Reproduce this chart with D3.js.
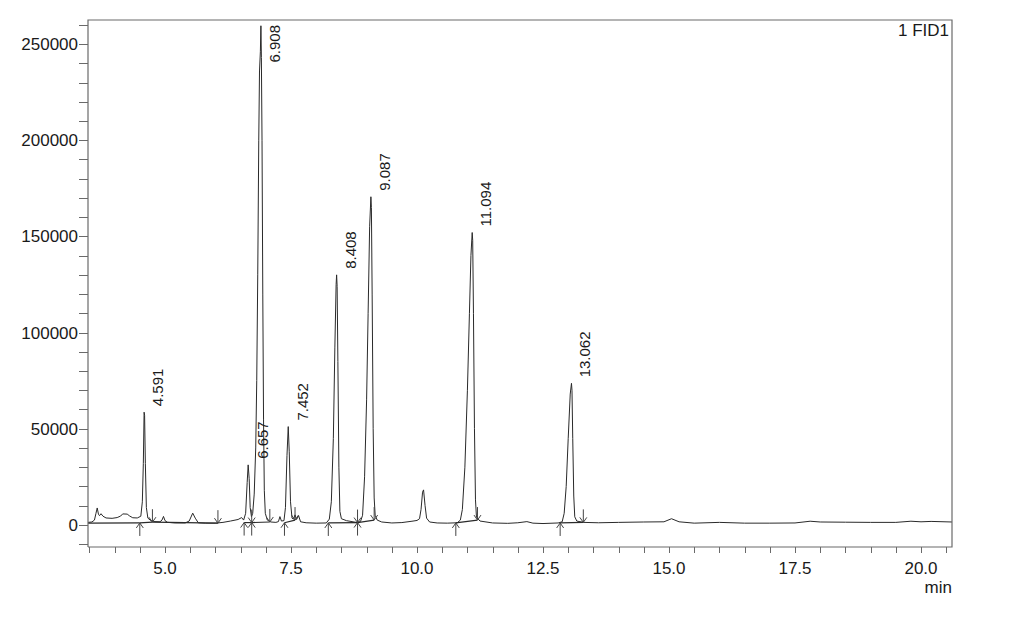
<!DOCTYPE html>
<html lang="en">
<head>
<meta charset="utf-8">
<title>FID1 chromatogram</title>
<style>
  body { margin: 0; background: #fff; }
  svg { display: block; font-family: "Liberation Sans", Arial, sans-serif; }
  .frame { fill: none; stroke: #6a6a6a; stroke-width: 1.2; }
  .tick { stroke: #6a6a6a; stroke-width: 1; }
  .tick-label { fill: #1a1a1a; font-size: 17px; }
  .trace { fill: none; stroke: #2a2a2a; stroke-width: 1; stroke-linejoin: round; }
  .baseline { fill: none; stroke: #2a2a2a; stroke-width: 1.2; }
  .marker { fill: none; stroke: #444; stroke-width: 1; }
  .peak-label { fill: #1a1a1a; font-size: 15px; }
</style>
</head>
<body>
<div id="wrapper"></div>
<script src="https://cdn.jsdelivr.net/npm/d3@7"></script>
<script>
// detector signal: [time (min), counts]
const trace = [
  [3.472, 1300], [3.55, 1500], [3.60, 2500], [3.63, 6000], [3.655, 8800], [3.68, 5500],
  [3.70, 4800], [3.73, 5800], [3.77, 4500], [3.83, 3600], [3.95, 3400], [4.05, 3800],
  [4.12, 4600], [4.16, 5700], [4.25, 5600], [4.30, 4600], [4.36, 3700], [4.45, 3600],
  [4.52, 4500], [4.55, 12000], [4.57, 32000], [4.585, 58600], [4.595, 57000], [4.61, 32000],
  [4.63, 9000], [4.66, 3500], [4.72, 2200], [4.80, 1700], [4.90, 1600], [4.94, 2500],
  [4.97, 4400], [5.00, 2200], [5.05, 1300], [5.20, 1000], [5.40, 1000], [5.48, 2000],
  [5.55, 6100], [5.60, 3500], [5.66, 1100], [5.80, 900], [6.00, 900], [6.15, 1300],
  [6.30, 2000], [6.45, 2800], [6.52, 3800], [6.56, 2500], [6.60, 6000], [6.63, 22000],
  [6.65, 31200], [6.67, 24000], [6.69, 9000], [6.715, 4300], [6.74, 6000], [6.77, 16000],
  [6.80, 40000], [6.82, 75000], [6.84, 130000], [6.86, 200000], [6.875, 236000],
  [6.892, 246000], [6.903, 259500], [6.912, 243000], [6.925, 200000], [6.94, 120000],
  [6.955, 55000], [6.97, 18000], [6.99, 6000], [7.03, 2500], [7.10, 1500], [7.20, 1300],
  [7.25, 1700], [7.28, 4300], [7.31, 2000], [7.36, 2200], [7.39, 9000], [7.42, 36000],
  [7.445, 51100], [7.465, 38000], [7.49, 12000], [7.52, 3500], [7.55, 3000], [7.58, 5200],
  [7.61, 2800], [7.65, 4800], [7.69, 1600], [7.80, 1100], [8.00, 900], [8.20, 1000],
  [8.26, 3000], [8.30, 12000], [8.34, 45000], [8.37, 92000], [8.395, 125000], [8.405, 130000],
  [8.415, 124000], [8.43, 85000], [8.45, 30000], [8.47, 7000], [8.50, 3200], [8.60, 2200],
  [8.75, 1500], [8.82, 1200], [8.88, 1800], [8.92, 5000], [8.96, 25000], [9.00, 65000],
  [9.03, 110000], [9.06, 155000], [9.085, 170600], [9.095, 165000], [9.11, 120000],
  [9.13, 50000], [9.15, 14000], [9.17, 5000], [9.21, 2500], [9.30, 1500], [9.50, 1000],
  [9.70, 1200], [9.90, 1900], [10.00, 2300], [10.05, 3200], [10.08, 8000], [10.11, 17000],
  [10.13, 18200], [10.16, 10000], [10.19, 3500], [10.25, 1500], [10.40, 1000], [10.60, 900],
  [10.80, 1100], [10.86, 2500], [10.90, 8000], [10.95, 30000], [11.00, 70000], [11.04, 110000],
  [11.07, 140000], [11.095, 152000], [11.105, 148000], [11.12, 110000], [11.14, 50000],
  [11.16, 13000], [11.18, 4000], [11.25, 2000], [11.50, 1000], [11.80, 800], [12.00, 1100],
  [12.18, 1700], [12.30, 900], [12.50, 700], [12.80, 1000], [12.88, 1600], [12.92, 6000],
  [12.96, 20000], [13.00, 45000], [13.04, 68000], [13.065, 73600], [13.075, 70000],
  [13.09, 45000], [13.11, 15000], [13.13, 4200], [13.17, 2000], [13.30, 1300], [13.60, 1100],
  [14.00, 1300], [14.50, 1500], [14.90, 1600], [15.05, 3200], [15.20, 1600], [15.50, 900],
  [16.00, 1300], [16.50, 900], [17.00, 900], [17.50, 1000], [17.80, 1900], [18.00, 1500],
  [18.50, 1400], [19.00, 1300], [19.50, 1300], [19.80, 1900], [20.00, 1600], [20.20, 1800],
  [20.615, 1500]
]

// labelled peaks
const peakTimes = [4.591, 6.657, 6.908, 7.452, 8.408, 9.087, 11.094, 13.062]
const peakLabels = ["4.591", "6.657", "6.908", "7.452", "8.408", "9.087", "11.094", "13.062"]
const peakApex = [58600, 31200, 259500, 51100, 130000, 170600, 152000, 73600]

// integration marks: peak start (up arrow) and peak end (down arrow)
const startMarks = [[4.50, 1000], [6.57, 1200], [6.72, 1200], [7.37, 1100], [8.24, 1000], [8.82, 1200], [10.77, 1000], [12.84, 1000]]
const endMarks = [[4.75, 1400], [6.05, 900], [6.72, 1200], [7.08, 1500], [7.58, 2500], [8.82, 1200], [9.15, 2500], [11.20, 2500], [13.30, 1300]]

// integration baseline segments [t1, v1, t2, v2]
const baseSegments = [
  [3.472, 900, 4.50, 1000], [4.50, 1000, 4.75, 1400], [4.75, 1400, 6.05, 900],
  [6.57, 1200, 6.72, 1200], [6.72, 1200, 7.08, 1500], [7.37, 1100, 7.58, 2500],
  [8.24, 1000, 8.82, 1200], [8.82, 1200, 9.15, 2500], [10.77, 1000, 11.20, 2500],
  [12.84, 1000, 13.30, 1300]
]

const yMajorTicks = [0, 50000, 100000, 150000, 200000, 250000]
const xMajorTicks = [5.0, 7.5, 10.0, 12.5, 15.0, 17.5, 20.0]
const signalName = "1 FID1"
const timeUnit = "min"

function drawChart() {
  const width = 1020
  const height = 621
  const plot = { left: 88, right: 952, top: 20, bottom: 547 }

  const x = d3.scaleLinear().domain([3.472, 20.615]).range([plot.left, plot.right])
  const y = d3.scaleLinear().domain([-11500, 262500]).range([plot.bottom, plot.top])

  const svg = d3.select("#wrapper").append("svg")
    .attr("width", width)
    .attr("height", height)

  // y axis: minor every 10000, labels every 50000
  const yMinor = d3.range(-10000, 260001, 10000)
  svg.append("g").selectAll("line")
    .data(yMinor)
    .join("line")
    .attr("class", "tick")
    .attr("x1", plot.left - 9)
    .attr("x2", plot.left)
    .attr("y1", d => Math.round(y(d)) + 0.5)
    .attr("y2", d => Math.round(y(d)) + 0.5)

  svg.append("g").selectAll("text")
    .data(yMajorTicks)
    .join("text")
    .attr("class", "tick-label")
    .attr("x", plot.left - 10)
    .attr("y", d => y(d))
    .attr("dy", "0.36em")
    .attr("text-anchor", "end")
    .text(d => d)

  // x axis: minor every 0.5 min
  const xMinor = d3.range(3.5, 20.51, 0.5)
  svg.append("g").selectAll("line")
    .data(xMinor)
    .join("line")
    .attr("class", "tick")
    .attr("x1", d => Math.round(x(d)) + 0.5)
    .attr("x2", d => Math.round(x(d)) + 0.5)
    .attr("y1", plot.bottom)
    .attr("y2", plot.bottom + 6)

  svg.append("g").selectAll("text")
    .data(xMajorTicks)
    .join("text")
    .attr("class", "tick-label")
    .attr("x", d => x(d))
    .attr("y", plot.bottom + 27)
    .attr("text-anchor", "middle")
    .text(d => d.toFixed(1))

  svg.append("text")
    .attr("class", "tick-label")
    .attr("x", plot.right)
    .attr("y", plot.bottom + 46)
    .attr("text-anchor", "end")
    .text(timeUnit)

  // trace, clipped to the frame
  svg.append("clipPath").attr("id", "plot-clip")
    .append("rect")
    .attr("x", plot.left)
    .attr("y", plot.top)
    .attr("width", plot.right - plot.left)
    .attr("height", plot.bottom - plot.top)

  const body = svg.append("g").attr("clip-path", "url(#plot-clip)")

  body.selectAll(".baseline")
    .data(baseSegments)
    .join("line")
    .attr("class", "baseline")
    .attr("x1", d => x(d[0]))
    .attr("y1", d => y(d[1]))
    .attr("x2", d => x(d[2]))
    .attr("y2", d => y(d[3]))

  const line = d3.line()
    .x(d => x(d[0]))
    .y(d => y(d[1]))

  body.append("path")
    .datum(trace)
    .attr("class", "trace")
    .attr("d", line)

  // start marks: arrow below baseline pointing up
  const arrowLen = 13
  body.selectAll(".start-mark")
    .data(startMarks)
    .join("path")
    .attr("class", "marker start-mark")
    .attr("d", d => {
      const px = x(d[0]), py = y(d[1])
      return `M${px},${py + arrowLen}V${py}M${px - 3.5},${py + 5}L${px},${py}L${px + 3.5},${py + 5}`
    })

  // end marks: arrow above baseline pointing down
  body.selectAll(".end-mark")
    .data(endMarks)
    .join("path")
    .attr("class", "marker end-mark")
    .attr("d", d => {
      const px = x(d[0]), py = y(d[1])
      return `M${px},${py - arrowLen}V${py}M${px - 3.5},${py - 5}L${px},${py}L${px + 3.5},${py - 5}`
    })

  // retention time labels, rotated, kept inside the frame
  svg.append("g").selectAll("text")
    .data(peakTimes)
    .join("text")
    .attr("class", "peak-label")
    .attr("text-anchor", "start")
    .text((d, i) => peakLabels[i])
    .each(function (d, i) {
      const len = this.getComputedTextLength()
      const px = x(d) + 19
      const py = Math.max(y(peakApex[i]) - 6, plot.top + 5 + len)
      d3.select(this).attr("transform", `translate(${px},${py}) rotate(-90)`)
    })

  // frame
  svg.append("path")
    .attr("class", "frame")
    .attr("d", `M${plot.left},${plot.bottom}V${plot.top}H${plot.right}V${plot.bottom}H${plot.left}`)

  svg.append("text")
    .attr("class", "tick-label")
    .attr("x", plot.right - 3)
    .attr("y", plot.top + 16)
    .attr("text-anchor", "end")
    .text(signalName)
}
drawChart()
</script>
</body>
</html>
